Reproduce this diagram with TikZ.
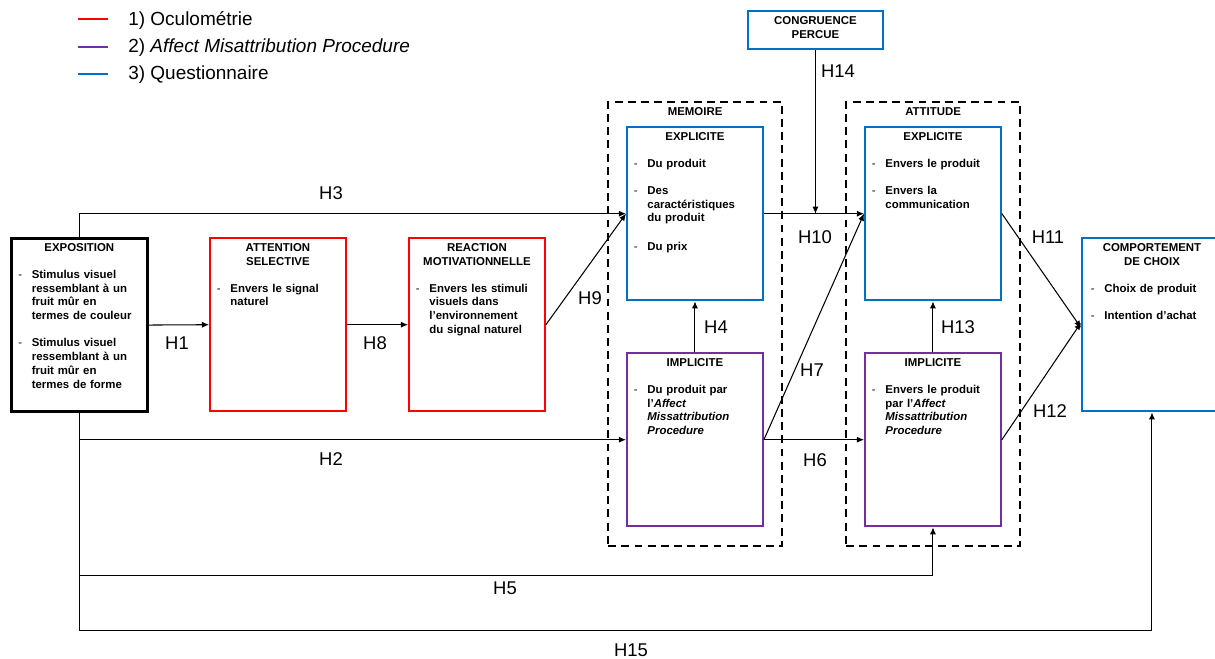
\documentclass[tikz,border=0pt]{standalone}
\usepackage{fontspec}
\setmainfont{Liberation Sans}
\usetikzlibrary{arrows.meta}

\definecolor{ocured}{RGB}{255,0,0}
\definecolor{amppurple}{RGB}{112,48,160}
\definecolor{questblue}{RGB}{0,112,192}

% title line(s) and list items inside the boxes
\newcommand{\boxtitle}[1]{{\centering #1\par}}
\newcommand{\itm}[1]{\par\vspace{7.6pt}\noindent
   \makebox[0.27cm][l]{\mdseries -}\parbox[t]{2.15cm}{\raggedright #1\strut}\par}

\begin{document}
\begin{tikzpicture}[
   x=0.02cm, y=-0.02cm,
   box/.style={draw,line width=1.1pt,anchor=north west,inner sep=0pt,
      minimum width=2.72cm,minimum height=3.47cm},
   expobox/.style={box,draw=black,line width=1.5pt},
   ocubox/.style={box,draw=ocured},
   ampbox/.style={box,draw=amppurple},
   questbox/.style={box,draw=questblue},
   groupbox/.style={draw,dashed,dash pattern=on 4.5pt off 3pt,line width=1.3pt,
      anchor=north west,inner sep=0pt,minimum width=3.48cm,minimum height=8.88cm},
   boxtext/.style={anchor=north,inner sep=0pt,text width=2.44cm,align=left,
      font=\fontsize{6.5}{7.8}\selectfont\bfseries},
   grouptitle/.style={anchor=north,inner sep=0pt,
      font=\fontsize{6.5}{7.8}\selectfont\bfseries},
   hyp/.style={inner sep=0pt,font=\fontsize{10.5}{12}\selectfont},
   legtext/.style={anchor=west,inner sep=0pt,font=\fontsize{10.8}{13}\selectfont},
   legline/.style={line width=1.6pt},
   conn/.style={line width=0.6pt,-{Latex[length=4pt,width=3.5pt]}}
]
   \useasboundingbox (0,0) rectangle (1215,659);

   % legend
   \draw[legline,ocured] (78,19) -- (108,19);
   \draw[legline,amppurple] (78,47) -- (108,47);
   \draw[legline,questblue] (78,74) -- (108,74);
   \node[legtext] (leg1) at (128,20) {1) Oculométrie};
   \node[legtext] (leg2) at (128,48) {2) \textit{Affect Misattribution Procedure}};
   \node[legtext] (leg3) at (128,75) {3) Questionnaire};

   % dashed groups
   \node[groupbox] (memoire) at (607,101) {};
   \node[grouptitle,yshift=-0.12cm] (memoire-t) at (memoire.north) {MEMOIRE};
   \node[groupbox] (attitude) at (845,101) {};
   \node[grouptitle,yshift=-0.12cm] (attitude-t) at (attitude.north) {ATTITUDE};

   % boxes
   \node[expobox] (expo) at (10,237) {};
   \node[boxtext,yshift=-0.12cm] (expo-t) at (expo.north) {%
      \boxtitle{EXPOSITION}
      \itm{Stimulus visuel\\ ressemblant à un\\ fruit mûr en\\ termes de couleur}
      \itm{Stimulus visuel\\ ressemblant à un\\ fruit mûr en\\ termes de forme}};

   \node[ocubox] (att) at (209,237) {};
   \node[boxtext,yshift=-0.12cm] (att-t) at (att.north) {%
      \boxtitle{ATTENTION\\ SELECTIVE}
      \itm{Envers le signal\\ naturel}};

   \node[ocubox] (reac) at (408,237) {};
   \node[boxtext,yshift=-0.12cm] (reac-t) at (reac.north) {%
      \boxtitle{REACTION\\ MOTIVATIONNELLE}
      \itm{Envers les stimuli\\ visuels dans\\ l'environnement\\ du signal naturel}};

   \node[questbox] (memexp) at (626,126) {};
   \node[boxtext,yshift=-0.12cm] (memexp-t) at (memexp.north) {%
      \boxtitle{EXPLICITE}
      \itm{Du produit}
      \itm{Des\\ caractéristiques\\ du produit}
      \itm{Du prix}};

   \node[ampbox] (memimp) at (626,352) {};
   \node[boxtext,yshift=-0.12cm] (memimp-t) at (memimp.north) {%
      \boxtitle{IMPLICITE}
      \itm{Du produit par\\ l’\textit{Affect}\\ \textit{Missattribution}\\ \textit{Procedure}}};

   \node[questbox] (attexp) at (864,126) {};
   \node[boxtext,yshift=-0.12cm] (attexp-t) at (attexp.north) {%
      \boxtitle{EXPLICITE}
      \itm{Envers le produit}
      \itm{Envers la\\ communication}};

   \node[ampbox] (attimp) at (864,352) {};
   \node[boxtext,yshift=-0.12cm] (attimp-t) at (attimp.north) {%
      \boxtitle{IMPLICITE}
      \itm{Envers le produit\\ par l’\textit{Affect}\\ \textit{Missattribution}\\ \textit{Procedure}}};

   \node[questbox,minimum width=2.8cm] (comp) at (1081,237) {};
   \node[boxtext,yshift=-0.12cm] (comp-t) at (comp.north) {%
      \boxtitle{COMPORTEMENT\\ DE CHOIX}
      \itm{Choix de produit}
      \itm{Intention d'achat}};

   \node[questbox,minimum width=2.7cm,minimum height=0.76cm] (cong) at (747,10) {};
   \node[boxtext,yshift=-0.12cm] (cong-t) at (cong.north) {%
      \boxtitle{CONGRUENCE\\ PERCUE}};

   % hypotheses
   \draw[conn] (expo.east) -- (att.west);
   \draw[conn] (att.east) -- (reac.west);
   \draw[conn] (reac.east) -- (memexp.west);
   \draw[conn] (expo.north) |- (memexp.west);
   \draw[conn] (expo.south) |- (memimp.west);
   \draw[conn] (expo.south) -- ++(0,162) -| (attimp.south);
   \draw[conn] (expo.south) -- ++(0,217) -| (comp.south);
   \draw[conn] (memimp.north) -- (memexp.south);
   \draw[conn] (attimp.north) -- (attexp.south);
   \draw[conn] (memexp.east) -- (attexp.west);
   \draw[conn] (memimp.east) -- (attexp.west);
   \draw[conn] (memimp.east) -- (attimp.west);
   \draw[conn] (cong.south) -- (cong.south |- memexp.east);
   \draw[conn] (attexp.east) -- ([yshift=-0.06cm]comp.west);
   \draw[conn] (attimp.east) -- ([yshift=0.04cm]comp.west);

   \node[hyp] (h1) at (177,343) {H1};
   \node[hyp] (h2) at (331,459) {H2};
   \node[hyp] (h3) at (331,193) {H3};
   \node[hyp] (h4) at (716,327) {H4};
   \node[hyp] (h5) at (505,588) {H5};
   \node[hyp] (h6) at (815,460) {H6};
   \node[hyp] (h7) at (812,370) {H7};
   \node[hyp] (h8) at (375,343) {H8};
   \node[hyp] (h9) at (590,298) {H9};
   \node[hyp] (h10) at (815,237) {H10};
   \node[hyp] (h11) at (1048,237) {H11};
   \node[hyp] (h12) at (1050,411) {H12};
   \node[hyp] (h13) at (958,327) {H13};
   \node[hyp] (h14) at (838,71) {H14};
   \node[hyp] (h15) at (631,650) {H15};
\end{tikzpicture}
\end{document}
